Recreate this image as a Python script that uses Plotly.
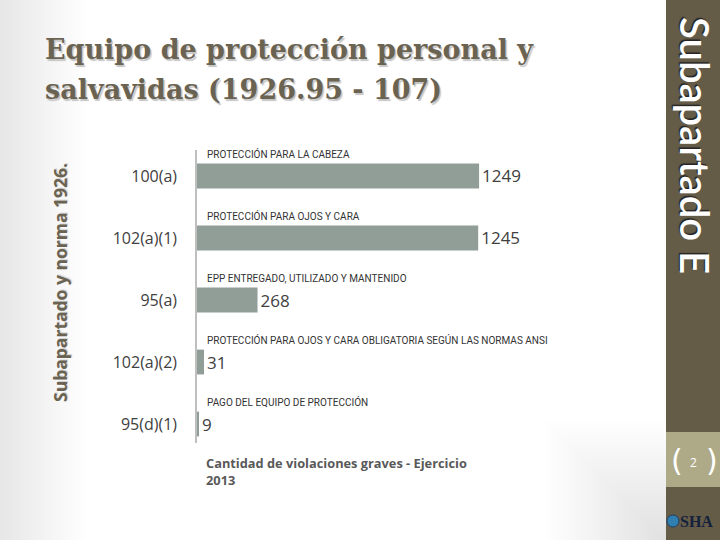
import plotly.graph_objects as go

# ---- data ----
categories = ["100(a)", "102(a)(1)", "95(a)", "102(a)(2)", "95(d)(1)"]
values = [1249, 1245, 268, 31, 9]
descriptions = [
    "PROTECCIÓN PARA LA CABEZA",
    "PROTECCIÓN PARA OJOS Y CARA",
    "EPP ENTREGADO, UTILIZADO Y MANTENIDO",
    "PROTECCIÓN PARA OJOS Y CARA OBLIGATORIA SEGÚN LAS NORMAS ANSI",
    "PAGO DEL EQUIPO DE PROTECCIÓN",
]
title_lines = ["Equipo de protección personal y", "salvavidas (1926.95 - 107)"]
y_title = "Subapartado y norma 1926."
x_caption = "Cantidad de violaciones graves - Ejercicio<br>2013"
side_text = "Subapartado E"
page_no = "2"

W, H = 720, 540
def px(x): return x / W
def py(y): return 1 - y / H

SIDE = "#655c48"
BAND = "#aea987"
TXT = "#6b6352"

fig = go.Figure()
fig.add_trace(go.Bar(
    x=values, y=categories, orientation="h",
    marker=dict(color="#919e98", line=dict(width=0)),
    width=0.4,
    text=[str(v) for v in values], textposition="outside",
    textfont=dict(family="Open Sans", size=17, color="#404040"),
    cliponaxis=False, hoverinfo="skip",
))

shapes = []
# soft background gradient on the left edge
n = 24
for i in range(n):
    w = 85 * (1 - i / n)
    shapes.append(dict(type="rect", xref="paper", yref="paper", x0=0, x1=px(w), y0=0, y1=1,
                       fillcolor="rgba(120,120,120,0.006)", line=dict(width=0), layer="below"))
# subtle gradient in the lower right corner near the sidebar
for i in range(30):
    w = 120 * (1 - i / 30)
    shapes.append(dict(type="rect", xref="paper", yref="paper", x0=px(666 - w), x1=px(666),
                       y0=0, y1=py(540 - w), fillcolor="rgba(120,120,120,0.0025)",
                       line=dict(width=0), layer="below"))
# sidebar
shapes.append(dict(type="rect", xref="paper", yref="paper", x0=px(666), x1=1, y0=0, y1=1,
                   fillcolor=SIDE, line=dict(width=0), layer="below"))
shapes.append(dict(type="rect", xref="paper", yref="paper", x0=px(666), x1=1, y0=py(487), y1=py(432),
                   fillcolor=BAND, line=dict(width=0), layer="below"))
# OSHA logo circle
shapes.append(dict(type="circle", xref="paper", yref="paper", x0=px(667), x1=px(679), y0=py(527), y1=py(515),
                   fillcolor="#2f7fb0", line=dict(color="#1c3f66", width=1)))

annotations = []
# title with shadow
for i, line in enumerate(title_lines):
    yy = 50 + i * 40
    annotations.append(dict(text=f"<b>{line}</b>", xref="paper", yref="paper", x=px(43), y=py(yy),
                            xanchor="left", yanchor="middle", showarrow=False,
                            font=dict(family="DejaVu Serif", size=27, color=TXT,
                                      shadow="1.5px 1.5px 1px #c4c4c4")))
# y title
annotations.append(dict(text=f"<b>{y_title}</b>", xref="paper", yref="paper", x=px(60), y=py(283),
                        textangle=-90, showarrow=False, xanchor="center", yanchor="middle",
                        font=dict(family="Open Sans", size=17.5, color=TXT,
                                  shadow="1px 1px 1px #d0d0d0")))
# descriptions above bars
for cat, d in zip(categories, descriptions):
    annotations.append(dict(text=d, x=0, y=cat, xref="x", yref="y", xanchor="left", yanchor="middle",
                            xshift=8, yshift=22, showarrow=False,
                            font=dict(family="Roboto", size=10, color="#333333")))
# caption
annotations.append(dict(text=f"<b>{x_caption}</b>", xref="paper", yref="paper", x=px(204), y=py(452),
                        xanchor="left", yanchor="top", align="left", showarrow=False,
                        font=dict(family="Open Sans", size=12.8, color="#595959")))
# sidebar text
annotations.append(dict(text=side_text, xref="paper", yref="paper", x=px(695), y=py(145),
                        textangle=90, showarrow=False, xanchor="center", yanchor="middle",
                        font=dict(family="Lato", size=40, color="white", weight=600,
                                  shadow="-1.5px 1.5px 1px #222222")))
# page number
annotations.append(dict(text="(", xref="paper", yref="paper", x=px(677), y=py(460), showarrow=False,
                        xanchor="center", yanchor="middle",
                        font=dict(family="DejaVu Sans", size=30, color="white")))
annotations.append(dict(text=")", xref="paper", yref="paper", x=px(712), y=py(460), showarrow=False,
                        xanchor="center", yanchor="middle",
                        font=dict(family="DejaVu Sans", size=30, color="white")))
annotations.append(dict(text=page_no, xref="paper", yref="paper", x=px(693), y=py(462), showarrow=False,
                        xanchor="center", yanchor="middle",
                        font=dict(family="Open Sans", size=12, color="white")))
annotations.append(dict(text="<b>SHA</b>", xref="paper", yref="paper", x=px(678), y=py(521), showarrow=False,
                        xanchor="left", yanchor="middle",
                        font=dict(family="Liberation Serif", size=16, color="#14213d")))

fig.update_layout(
    width=W, height=H, margin=dict(l=0, r=0, t=0, b=0),
    paper_bgcolor="white", plot_bgcolor="rgba(0,0,0,0)",
    showlegend=False, shapes=shapes, annotations=annotations,
    xaxis=dict(domain=[px(197), px(550)], range=[0, 1563], visible=False, fixedrange=True),
    yaxis=dict(domain=[py(443), py(150)], type="category", categoryorder="array",
               categoryarray=categories, range=[4.306, -0.419],
               showline=True, linecolor="#bfbfbf", linewidth=1.5, showgrid=False, zeroline=False,
               ticks="", ticklabelstandoff=15, fixedrange=True,
               tickfont=dict(family="Open Sans", size=16, color="#404040")),
    bargap=0.6,
)

fig.write_html("out.html", config={"displayModeBar": False},
               post_script="document.body.style.margin='0';document.body.style.overflow='hidden';")
